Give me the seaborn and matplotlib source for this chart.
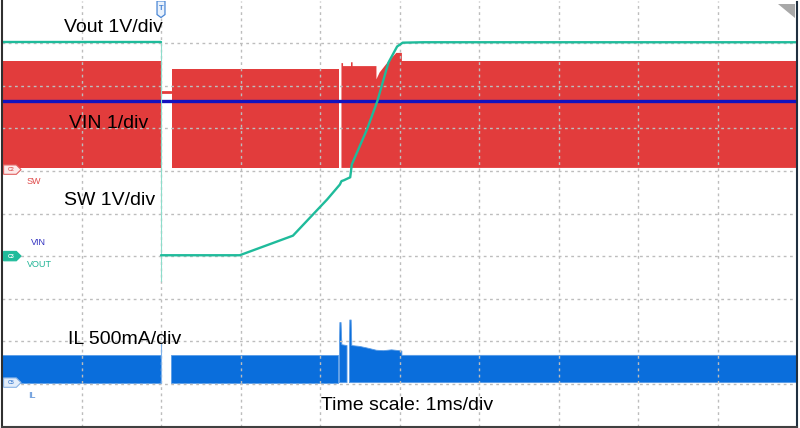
import numpy as np
import matplotlib
matplotlib.use("Agg")
import matplotlib.pyplot as plt
from matplotlib.patches import Polygon
import seaborn as sns

sns.set_theme(style="white")
plt.rcParams['font.family'] = ['Liberation Sans', 'DejaVu Sans']

nan = np.nan

# time in ms (1 ms/div), vertical position in divisions from the bottom
vout_pre_t = [0.0, 2.0]
vout_pre_v = [9.02, 9.02]
vout_t = [2.0, 2.99, 3.66, 4.09, 4.25, 4.27, 4.30, 4.38, 4.40, 4.59, 4.72, 4.86, 4.97, 5.04, 5.30, 10.0]
vout_v = [4.02, 4.02, 4.48, 5.33, 5.68, 5.76, 5.78, 5.85, 6.15, 6.97, 7.63, 8.54, 8.92, 9.01, 9.02, 9.02]
vout_trig_t = [2.0, 2.0]
vout_trig_v = [9.02, 3.41]

vin_t = [0.0, 10.0]
vin_v = [7.64, 7.64]

sw_t = [0.0, 2.0, nan, 2.14, 4.24, nan, 4.27, 4.29, 4.29, 4.39, 4.39, 4.41, 4.41, 4.71, 4.71,
        4.75, 4.83, 4.90, 4.96, 5.03, 5.03, 10.0]
sw_top = [8.57, 8.57, nan, 8.40, 8.40, nan, 8.53, 8.53, 8.46, 8.46, 8.55, 8.55, 8.46, 8.46, 8.15,
          8.31, 8.50, 8.65, 8.77, 8.77, 8.58, 8.58]
sw_bot = 6.07
sw_glitch_t = [2.0, 2.12]
sw_glitch_v = [7.86, 7.86]

il_t = [0.0, 2.0, nan, 2.13, 4.23, nan, 4.245, 4.25, 4.265, 4.275, 4.34, nan, 4.37, 4.375, 4.392,
        4.40, 4.5, 4.6, 4.71, 4.8, 4.9, 5.0, 5.03, 5.03, 10.0]
il_top = [1.67, 1.67, nan, 1.67, 1.67, nan, 1.95, 2.44, 2.44, 1.92, 1.90, nan, 1.90, 2.50, 2.50,
          1.90, 1.88, 1.84, 1.79, 1.78, 1.80, 1.78, 1.77, 1.67, 1.67]
il_bot = 1.03
il_trig_t = [2.0, 2.0]
il_trig_v = [1.03, 1.97]

labels = ["Vout 1V/div", "VIN 1/div", "SW 1V/div", "IL 500mA/div", "Time scale: 1ms/div"]
label_t = [0.78, 0.84, 0.78, 0.83, 4.01]
label_v = [9.27, 7.01, 5.21, 1.94, 0.38]

ch_names = ["SW", "VIN", "VOUT", "IL"]
ch_t = [0.31, 0.36, 0.31, 0.33]
ch_v = [5.76, 4.32, 3.80, 0.73]
ch_colors = ["#e04848", "#3030c0", "#20b495", "#4a86d4"]

markers = ["C2", "C3", "C5"]
marker_v = [6.03, 4.0, 1.03]

RED = "#e23c3c"
TEAL = "#1fbb9b"
NAVY = "#1212bf"
BLUE = "#0a6edc"

fig = plt.figure(figsize=(8, 4.28), dpi=100)
ax = fig.add_axes([2 / 800, 1.5 / 428, 795 / 800, 426 / 428])
ax.set_xlim(0, 10)
ax.set_ylim(0, 10)

# switching node and inductor current envelopes
ax.fill_between(sw_t, sw_top, sw_bot, color=RED, linewidth=0, zorder=1)
ax.fill_between(il_t, il_top, il_bot, color=BLUE, linewidth=0.6, edgecolor="#5a9ce6", zorder=1)

sns.lineplot(x=sw_glitch_t, y=sw_glitch_v, color=RED, lw=2, ax=ax, estimator=None, sort=False)
sns.lineplot(x=il_trig_t, y=il_trig_v, color="#7fb2ea", lw=0.8, ax=ax, estimator=None, sort=False)
sns.lineplot(x=vin_t, y=vin_v, color=NAVY, lw=2.4, ax=ax, estimator=None, sort=False)
sns.lineplot(x=vout_trig_t, y=vout_trig_v, color="#8edccb", lw=0.8, ax=ax, estimator=None, sort=False)
sns.lineplot(x=vout_pre_t, y=vout_pre_v, color=TEAL, lw=1.7, ax=ax, estimator=None, sort=False)
sns.lineplot(x=vout_t, y=vout_v, color=TEAL, lw=1.7, ax=ax, estimator=None, sort=False)

# grid
ax.set_xticks(np.arange(1, 10))
ax.set_yticks(np.arange(1, 10))
ax.set_axisbelow('line')
ax.grid(True, color="#bdbdbd", linestyle=(0, (2, 2.5)), lw=1.0)
ax.tick_params(length=0, labelbottom=False, labelleft=False)

ax.spines["top"].set_visible(False)
ax.spines["left"].set_color("#303030")
ax.spines["left"].set_linewidth(1.5)
ax.spines["bottom"].set_color("#404040")
ax.spines["bottom"].set_linewidth(1.5)
ax.spines["right"].set_color("#203040")
ax.spines["right"].set_linestyle((0, (1.5, 1)))
ax.spines["right"].set_linewidth(1.5)

for txt, t, v in zip(labels, label_t, label_v):
    ax.text(t, v, txt, fontsize=14, color="black", ha="left", va="baseline", zorder=5)

for txt, t, v, c in zip(ch_names, ch_t, ch_v, ch_colors):
    ax.text(t, v, txt, fontsize=6.5, color=c, ha="left", va="center", zorder=5)

# channel ground markers on the left edge
styles = [("#fde9e9", "#e06060", "#e06060"), (TEAL, TEAL, "white"), ("#e3eefb", "#8ab4e6", "#4a86d4")]
for name, v, (fc, ec, tc) in zip(markers, marker_v, styles):
    pts = [(0.02, v - 0.11), (0.18, v - 0.11), (0.24, v), (0.18, v + 0.11), (0.02, v + 0.11)]
    ax.add_patch(Polygon(pts, closed=True, fc=fc, ec=ec, lw=0.8, zorder=6))
    ax.text(0.11, v, name, fontsize=3.8, color=tc, ha="center", va="center", zorder=7, fontweight="bold")

# trigger marker at the top
trig = [(1.95, 9.99), (2.05, 9.99), (2.05, 9.67), (2.0, 9.60), (1.95, 9.67)]
ax.add_patch(Polygon(trig, closed=True, fc="#eaf2fc", ec="#4a86d4", lw=0.9, zorder=6))
ax.text(2.0, 9.82, "T", fontsize=5.5, color="#4a86d4", ha="center", va="center", zorder=7, fontweight="bold")

# corner tab
ax.add_patch(Polygon([(9.76, 9.91), (9.97, 9.91), (9.97, 9.58)], closed=True,
                     fc="#a8a8a8", ec="none", zorder=6))

fig.savefig("out.png", dpi=100)
